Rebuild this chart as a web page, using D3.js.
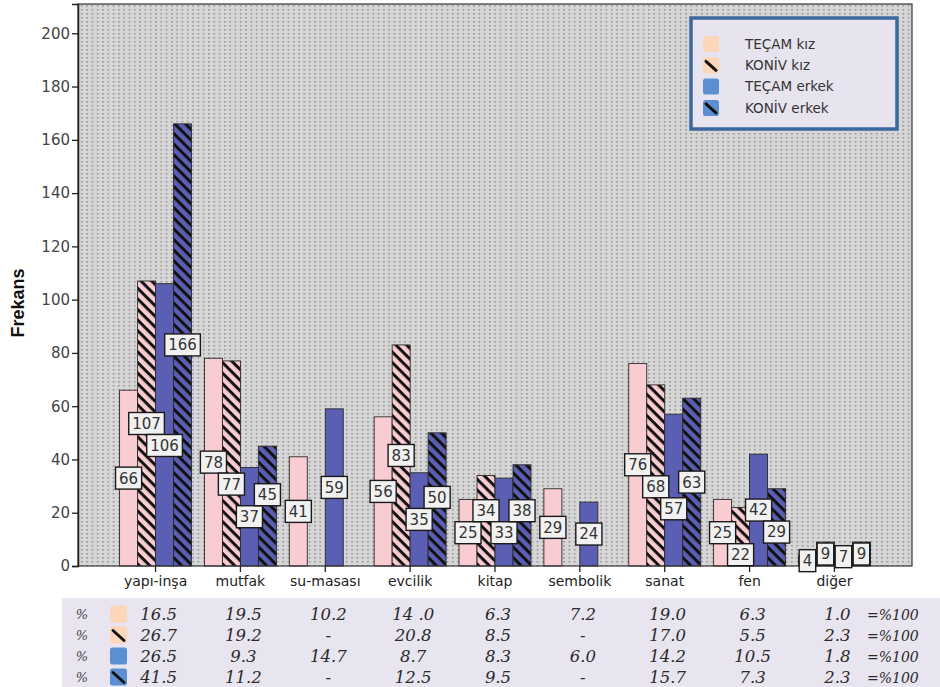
<!DOCTYPE html>
<html>
<head>
<meta charset="utf-8">
<script src="https://cdn.jsdelivr.net/npm/d3@7"></script>
<style>
  html, body { margin: 0; padding: 0; background: #fff; }
  svg { display: block; }
</style>
</head>
<body>
<svg id="chart" width="940" height="687"></svg>
<script>
// Categories on the x axis
const categories = ["yapı-inşa", "mutfak", "su-masası", "evcilik", "kitap", "sembolik", "sanat", "fen", "diğer"];

// Series names (legend order)
const seriesNames = ["TEÇAM kız", "KONİV kız", "TEÇAM erkek", "KONİV erkek"];

// Frequencies per series (null = no bar)
const tecamKiz   = [66, 78, 41, 56, 25, 29, 76, 25, 4];
const konivKiz   = [107, 77, null, 83, 34, null, 68, 22, 9];
const tecamErkek = [106, 37, 59, 35, 33, 24, 57, 42, 7];
const konivErkek = [166, 45, null, 50, 38, null, 63, 29, 9];

// Percentage table rows
const pctTecamKiz   = ["16.5", "19.5", "10.2", "14 .0", "6.3", "7.2", "19.0", "6.3", "1.0"];
const pctKonivKiz   = ["26.7", "19.2", "-", "20.8", "8.5", "-", "17.0", "5.5", "2.3"];
const pctTecamErkek = ["26.5", "9.3", "14.7", "8.7", "8.3", "6.0", "14.2", "10.5", "1.8"];
const pctKonivErkek = ["41.5", "11.2", "-", "12.5", "9.5", "-", "15.7", "7.3", "2.3"];
const rowTotal = "=%100";

// Y axis ticks
const yTicks = [0, 20, 40, 60, 80, 100, 120, 140, 160, 180, 200];
const yTitle = "Frekans";

const seriesValues = [tecamKiz, konivKiz, tecamErkek, konivErkek];
const pctRows = [pctTecamKiz, pctKonivKiz, pctTecamErkek, pctKonivErkek];

const svg = d3.select("#chart");
const plot = { left: 78, right: 912, top: 4, bottom: 566 };
const sans = "DejaVu Sans, Verdana, sans-serif";
const serif = "DejaVu Serif, serif";

const barFill = ["#f9ccd2", "#f9ccd2", "#5a5fb4", "#5a5fb4"];
const hatched = [false, true, false, true];
const keyFill = ["#fbd6b8", "#fbd6b8", "#5b8fd2", "#5b8fd2"];

const defs = svg.append("defs");

// dotted plot background
const dots = defs.append("pattern").attr("id", "dots")
  .attr("patternUnits", "userSpaceOnUse").attr("width", 5.3).attr("height", 4)
  .attr("x", plot.left + 2).attr("y", plot.top);
dots.append("rect").attr("width", 5.3).attr("height", 4).attr("fill", "#d6d6d6");
dots.append("rect").attr("x", 1).attr("y", 1).attr("width", 1.5).attr("height", 1.5).attr("fill", "#8e8e8e");

// diagonal hatching for KONİV bars
function hatch(id, base) {
  const p = defs.append("pattern").attr("id", id)
    .attr("patternUnits", "userSpaceOnUse").attr("width", 7.5).attr("height", 7.5)
    .attr("patternTransform", "rotate(45)");
  p.append("rect").attr("width", 7.5).attr("height", 7.5).attr("fill", base);
  p.append("rect").attr("x", 0).attr("y", 0).attr("width", 7.5).attr("height", 3).attr("fill", "#111");
}
hatch("hatchPink", barFill[1]);
hatch("hatchBlue", barFill[3]);
const fillFor = i => hatched[i] ? (i === 1 ? "url(#hatchPink)" : "url(#hatchBlue)") : barFill[i];

// scales
const y = d3.scaleLinear().domain([0, 211]).range([plot.bottom, plot.top]);
const x0 = d3.scaleBand().domain(categories).range([plot.left, plot.right])
  .paddingInner(0.152).paddingOuter(0.49);
const x1 = d3.scaleBand().domain(d3.range(4)).range([0, x0.bandwidth()]);

// plot background
svg.append("rect").attr("x", plot.left).attr("y", plot.top)
  .attr("width", plot.right - plot.left).attr("height", plot.bottom - plot.top)
  .attr("fill", "url(#dots)");

// bars
const bars = [];
categories.forEach((c, ci) => {
  seriesValues.forEach((vals, si) => {
    const v = vals[ci];
    if (v == null) return;
    bars.push({ c, ci, si, v });
  });
});

svg.append("g").selectAll("rect").data(bars).join("rect")
  .attr("x", d => x0(d.c) + x1(d.si))
  .attr("y", d => y(d.v))
  .attr("width", x1.bandwidth())
  .attr("height", d => y(0) - y(d.v))
  .attr("fill", d => fillFor(d.si))
  .attr("stroke", "#2a2a2a").attr("stroke-width", 0.9);

// frame
svg.append("rect").attr("x", plot.left).attr("y", plot.top)
  .attr("width", plot.right - plot.left).attr("height", plot.bottom - plot.top)
  .attr("fill", "none").attr("stroke", "#333").attr("stroke-width", 1.2);

// y axis
const yAxis = d3.axisLeft(y).tickValues(yTicks).tickSize(6).tickPadding(2);
const gy = svg.append("g").attr("transform", `translate(${plot.left},0)`).call(yAxis);
gy.select(".domain").attr("stroke", "#222").attr("stroke-width", 1.5);
gy.selectAll(".tick line").attr("stroke", "#222").attr("stroke-width", 1.3);
gy.selectAll(".tick text").attr("font-family", sans)
  .attr("font-size", 15).attr("fill", "#444");

svg.append("text")
  .attr("transform", `translate(24,${(plot.top + plot.bottom) / 2 + 18}) rotate(-90)`)
  .attr("text-anchor", "middle")
  .attr("font-family", "Liberation Sans, Arial, sans-serif")
  .attr("font-weight", "bold").attr("font-size", 18).attr("fill", "#111")
  .text(yTitle);

// x axis
const xAxis = d3.axisBottom(x0).tickSize(6).tickPadding(4);
const gx = svg.append("g").attr("transform", `translate(0,${plot.bottom})`).call(xAxis);
gx.select(".domain").remove();
gx.selectAll(".tick line").attr("stroke", "#222").attr("stroke-width", 1.3);
gx.selectAll(".tick text").attr("font-family", sans)
  .attr("font-size", 14).attr("fill", "#222");

// value labels, placed at mid-height and nudged apart where they collide
const boxH = 22;
const measure = svg.append("text").attr("font-family", sans)
  .attr("font-size", 15).attr("visibility", "hidden");
const labels = bars.map(d => {
  measure.text(d.v);
  const w = measure.node().getComputedTextLength() + 7;
  const cx = x0(d.c) + x1(d.si) + x1.bandwidth() / 2;
  return { ...d, w, cx, cy: y(d.v / 2) };
});
measure.remove();

categories.forEach(c => {
  const placed = [];
  labels.filter(l => l.c === c).forEach(l => {
    const hits = (cy) => placed.some(p =>
      Math.abs(p.cx - l.cx) < (p.w + l.w) / 2 && Math.abs(p.cy - cy) < boxH);
    if (hits(l.cy)) {
      const cands = [];
      placed.forEach(p => { cands.push(p.cy + boxH, p.cy - boxH); });
      cands.sort((a, b) => Math.abs(a - l.cy) - Math.abs(b - l.cy));
      const ok = cands.find(cy => !hits(cy));
      if (ok != null) l.cy = ok;
    }
    placed.push(l);
  });
});

const lg = svg.append("g").selectAll("g").data(labels).join("g")
  .attr("transform", d => `translate(${d.cx},${d.cy})`);
lg.append("rect")
  .attr("x", d => -d.w / 2).attr("y", -boxH / 2)
  .attr("width", d => d.w).attr("height", boxH)
  .attr("fill", "#f1f1f1").attr("stroke", "#1a1a1a").attr("stroke-width", 1.4);
lg.append("text").attr("text-anchor", "middle").attr("dy", "0.36em")
  .attr("font-family", sans)
  .attr("font-size", 15).attr("fill", "#333")
  .text(d => d.v);

// key swatch (plain or with a single diagonal stroke)
function swatch(g, i, sx, sy, s) {
  g.append("rect").attr("x", sx).attr("y", sy).attr("width", s).attr("height", s)
    .attr("rx", 2.5).attr("fill", keyFill[i]);
  if (hatched[i]) {
    g.append("line").attr("x1", sx + 3).attr("y1", sy + 4)
      .attr("x2", sx + s - 3).attr("y2", sy + s - 3)
      .attr("stroke", "#111").attr("stroke-width", 3).attr("stroke-linecap", "round");
  }
}

// legend
const legend = svg.append("g");
legend.append("rect").attr("x", 691).attr("y", 18).attr("width", 206).attr("height", 111)
  .attr("fill", "#e8e4ef").attr("stroke", "#3d689d").attr("stroke-width", 3.5);
seriesNames.forEach((name, i) => {
  const cy = 44 + i * 21.3;
  swatch(legend, i, 703, cy - 8, 16);
  legend.append("text").attr("x", 745).attr("y", cy).attr("dy", "0.35em")
    .attr("font-family", sans)
    .attr("font-size", 13.5).attr("fill", "#333").text(name);
});

// percentage table
const table = svg.append("g");
table.append("rect").attr("x", 62).attr("y", 598).attr("width", 878).attr("height", 89)
  .attr("fill", "#e9e5f0");
pctRows.forEach((row, ri) => {
  const cy = 614 + ri * 21;
  table.append("text").attr("x", 82).attr("y", cy).attr("dy", "0.35em")
    .attr("font-family", serif).attr("font-style", "italic")
    .attr("font-size", 13).attr("fill", "#444").attr("text-anchor", "middle").text("%");
  swatch(table, ri, 110, cy - 8.5, 17);
  row.forEach((t, ci) => {
    table.append("text")
      .attr("x", x0(categories[ci]) + x0.bandwidth() / 2 + 3)
      .attr("y", cy).attr("dy", "0.35em").attr("text-anchor", "middle")
      .attr("font-family", serif).attr("font-style", "italic")
      .attr("font-size", 16.5).attr("fill", "#2a2a2a").text(t);
  });
  table.append("text").attr("x", 867).attr("y", cy + 1).attr("dy", "0.35em")
    .attr("font-family", serif).attr("font-style", "italic")
    .attr("font-size", 14).attr("fill", "#2a2a2a").text(rowTotal);
});
</script>
</body>
</html>
